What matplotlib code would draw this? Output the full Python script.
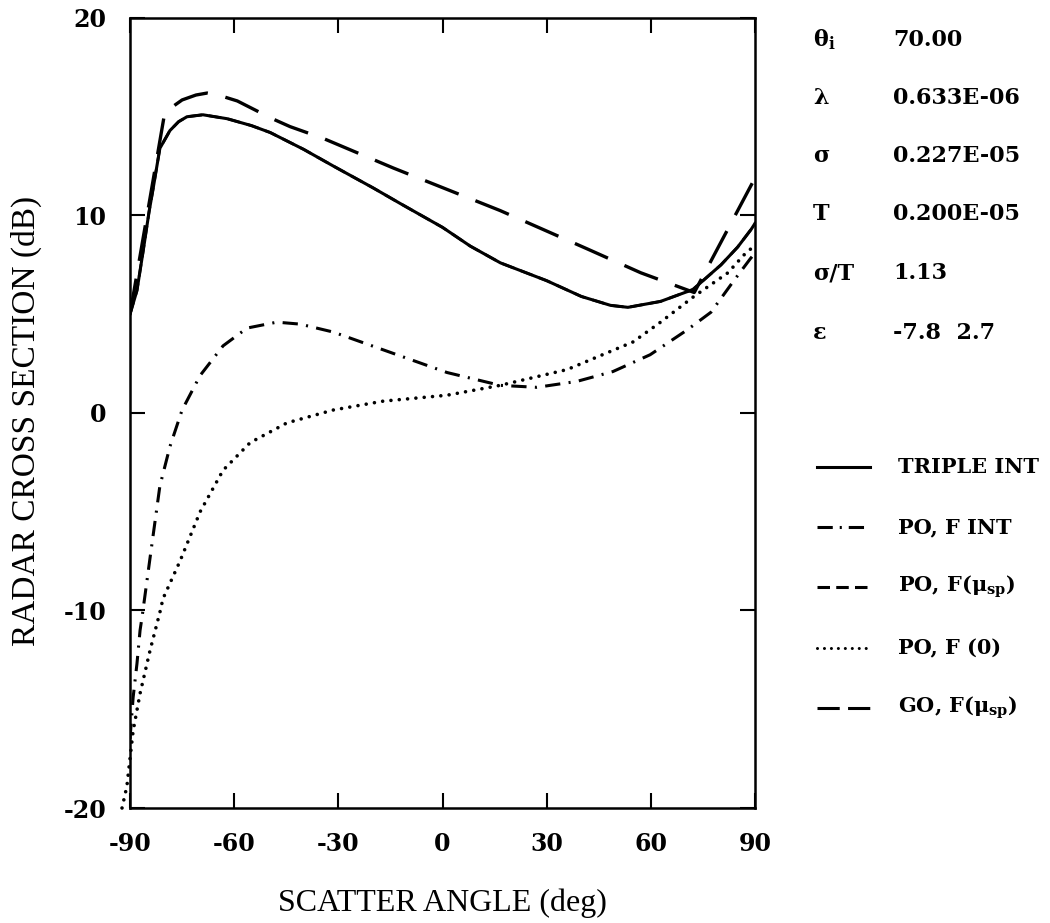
import matplotlib
matplotlib.use("Agg")
import matplotlib.pyplot as plt
from matplotlib.lines import Line2D

plt.rcParams['lines.scale_dashes'] = False
plt.rcParams['mathtext.fontset'] = 'dejavuserif'
plt.rcParams['axes.unicode_minus'] = False

# data (scatter angle in deg, RCS in dB)
triple_x = [-90, -88, -86.3, -84.5, -83.4, -81.4, -78.5, -76, -73.6, -69, -62, -55, -49.6, -40,
            -31.4, -20, -12.1, 0, 8, 16.7, 30, 40, 48.4, 53.4, 62.8, 72.1, 80.2, 85, 88.9, 90]
triple_y = [5.0, 6.2, 8.1, 10.2, 11.3, 13.4, 14.3, 14.75, 15.0, 15.1, 14.9, 14.55, 14.2, 13.35,
            12.5, 11.4, 10.6, 9.4, 8.45, 7.6, 6.7, 5.9, 5.45, 5.35, 5.65, 6.25, 7.5, 8.4, 9.3, 9.6]

# PO, F(mu_sp) lies under the solid curve
po_mu_x = triple_x
po_mu_y = [5.0, 6.2, 8.1, 10.2, 11.3, 13.4, 14.3, 14.75, 15.0, 15.1, 14.9, 14.55, 14.2, 13.35,
           12.5, 11.4, 10.6, 9.4, 8.45, 7.6, 6.7, 5.9, 5.45, 5.35, 5.65, 6.25, 7.5, 8.4, 9.3, 9.6]

go_x = [-90, -80, -77, -75, -71, -67.8, -64.6, -59.1, -49, -43.9, -34.3, -14.1, 16.6, 41.8,
        57.1, 72.5, 90]
go_y = [5.0, 15.2, 15.6, 15.85, 16.1, 16.2, 16.1, 15.8, 14.9, 14.5, 13.9, 12.4, 10.25, 8.3,
        7.1, 6.1, 11.9]

fint_x = [-90, -89.1, -88, -87.1, -86.5, -84.2, -81.4, -78.5, -75, -69.8, -63.2, -56.3, -47.7,
          -41, -31.5, -17.1, 1.3, 16.6, 27.2, 38.7, 49.1, 59.8, 70.4, 77.3, 83.9, 88.6, 90]
fint_y = [-16.5, -14.4, -12.7, -11.0, -10.3, -7.3, -3.7, -1.7, 0.15, 1.9, 3.4, 4.3, 4.6,
          4.5, 4.1, 3.2, 2.05, 1.4, 1.3, 1.6, 2.1, 2.95, 4.2, 5.1, 6.7, 7.8, 8.1]

f0_x = [-92.3, -90.9, -89.1, -87.1, -84.2, -81.4, -80.5, -75.6, -69.8, -63.2, -55.4, -44.8,
        -31.5, -17.1, 1.3, 16.6, 35.9, 54.9, 62.8, 72.4, 82.2, 86.8, 90]
f0_y = [-20, -18.9, -16.1, -14.2, -12.0, -10.1, -9.4, -7.5, -5.0, -2.9, -1.5, -0.5,
        0.15, 0.6, 0.9, 1.4, 2.2, 3.6, 4.6, 5.9, 7.1, 8.0, 8.5]

x_ticks = [-90, -60, -30, 0, 30, 60, 90]
y_ticks = [-20, -10, 0, 10, 20]

param_names = [r'$\mathbf{\theta_{i}}$', 'λ', 'σ', 'T', 'σ/T', 'ε']
param_values = ['70.00', '0.633E-06', '0.227E-05', '0.200E-05', '1.13', '-7.8  2.7']

legend_labels = ['TRIPLE INT', 'PO, F INT', r'PO, F(μ$_{\mathbf{sp}}$)', 'PO, F (0)',
                 r'GO, F(μ$_{\mathbf{sp}}$)']

W, H = 1050, 923
fig = plt.figure(figsize=(W / 100, H / 100), dpi=100)
ax = fig.add_axes([130 / W, 1 - 808 / H, 625 / W, 790 / H])

ax.plot(po_mu_x, po_mu_y, color='black', lw=2.0, dashes=(9, 5))
ax.plot(f0_x, f0_y, color='black', lw=2.6, dashes=(0.01, 6), dash_capstyle='round',
        clip_on=False)
ax.plot(fint_x, fint_y, color='black', lw=2.2, dashes=(11, 6, 1.5, 6))
ax.plot(go_x, go_y, color='black', lw=2.4, dashes=(26, 13))
ax.plot(triple_x, triple_y, color='black', lw=2.2)

ax.set_xlim(-90, 90)
ax.set_ylim(-20, 20)
ax.set_xticks(x_ticks)
ax.set_yticks(y_ticks)
ax.tick_params(direction='in', length=11, width=1.5, top=True, right=True, pad=17,
               labelsize=17)
for lab in ax.get_xticklabels() + ax.get_yticklabels():
    lab.set_fontfamily('DejaVu Serif')
    lab.set_fontweight('bold')
for s in ax.spines.values():
    s.set_linewidth(1.8)

ax.set_xlabel('SCATTER ANGLE (deg)', fontfamily='Liberation Serif', fontsize=23)
ax.set_ylabel('RADAR CROSS SECTION (dB)', fontfamily='Liberation Serif', fontsize=24)
ax.xaxis.set_label_coords(0.5, -0.102)
ax.yaxis.set_label_coords(-0.14, 0.49)

# parameter block
param_rows = [40, 98, 156, 214, 273, 333]
for name, val, yp in zip(param_names, param_values, param_rows):
    fig.text(813 / W, 1 - yp / H, name, fontfamily='DejaVu Serif', fontweight='bold',
             fontsize=16, va='center')
    fig.text(893 / W, 1 - yp / H, val, fontfamily='DejaVu Serif', fontweight='bold',
             fontsize=16, va='center')

# legend
legend_rows = [467, 527, 587, 648, 708]
legend_styles = [dict(), dict(dashes=(11, 5, 1.5, 5)), dict(dashes=(9, 4.5)),
                 dict(dashes=(0.01, 5), dash_capstyle='round'), dict(dashes=(16, 6))]
for lab, yp, st in zip(legend_labels, legend_rows, legend_styles):
    fig.add_artist(Line2D([817 / W, 870 / W], [1 - yp / H, 1 - yp / H], color='black',
                          lw=2.2, **st))
    fig.text(898 / W, 1 - yp / H, lab, fontfamily='DejaVu Serif', fontweight='bold',
             fontsize=15, va='center')

fig.savefig('out.png', dpi=100)
